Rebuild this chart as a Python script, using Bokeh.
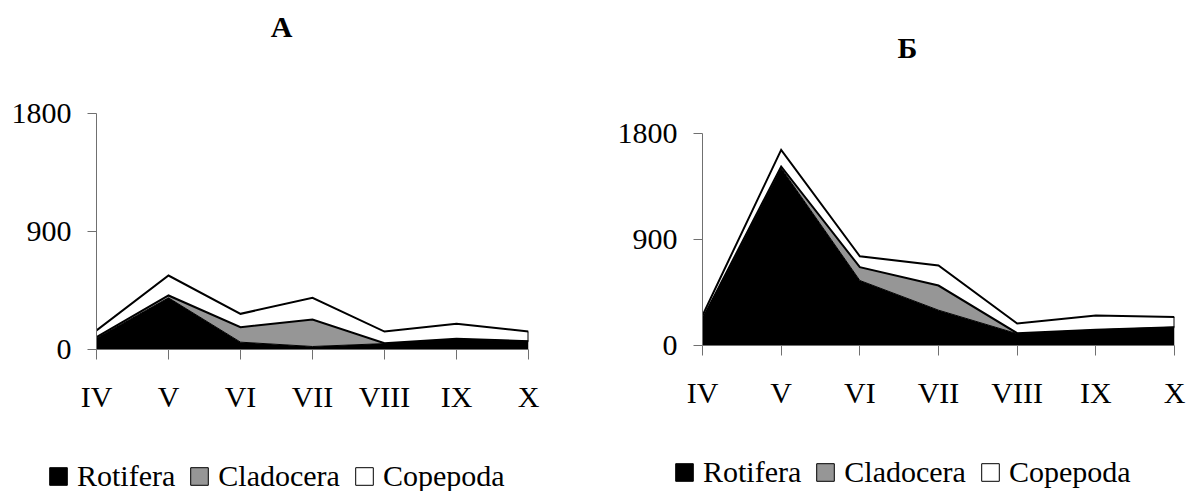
import numpy as np
from bokeh.plotting import figure
from bokeh.models import (ColumnDataSource, Range1d, FixedTicker, Legend,
                          LegendItem, Label)
from bokeh.layouts import row, column
from bokeh.embed import file_html
from bokeh.resources import INLINE

# ---------------- data ----------------
months = ["IV", "V", "VI", "VII", "VIII", "IX", "X"]
y_ticks = [0, 900, 1800]
series_names = ["Rotifera", "Cladocera", "Copepoda"]

a_rotifera = [85, 394, 56, 23, 45, 80, 63]
a_cladocera = [9, 18, 114, 206, 3, 2, 0]
a_copepoda = [51, 152, 102, 165, 89, 114, 74]

b_rotifera = [220, 1505, 552, 300, 100, 133, 156]
b_cladocera = [6, 15, 113, 209, 5, 0, 0]
b_copepoda = [29, 141, 93, 170, 82, 122, 85]

FONT = "Liberation Serif"
AXIS_COLOR = "#707070"
GRAY = "#969696"
COLORS = ["black", GRAY, "white"]


def blank_fig(width, height):
    f = figure(width=width, height=height, output_backend="svg",
               toolbar_location=None, title=None,
               x_range=Range1d(0, width), y_range=Range1d(0, height),
               x_axis_type=None, y_axis_type=None, min_border=0)
    f.outline_line_color = None
    f.grid.visible = False
    return f


def title_fig(text, width, height, cx, cy_from_top):
    f = blank_fig(width, height)
    f.add_layout(Label(x=cx, y=height - cy_from_top, text=text, text_font=FONT,
                       text_font_style="bold", text_font_size="30px",
                       text_align="center", text_baseline="middle",
                       text_color="black"))
    return f


def legend_fig(width, height, loc):
    f = blank_fig(width, height)
    items = []
    for name, col in zip(series_names, COLORS):
        # invisible proxy renderer: only its legend glyph is drawn
        r = f.quad(left=[0], right=[1], top=[1], bottom=[0], fill_color=col,
                   line_color="black", line_width=1)
        r.visible = False
        items.append(LegendItem(label=name, renderers=[r]))
    legend = Legend(items=items, orientation="horizontal", location=loc,
                    glyph_width=22, glyph_height=22, label_standoff=8, spacing=13,
                    padding=0, margin=0, border_line_color=None,
                    background_fill_alpha=0, label_text_font=FONT,
                    label_text_font_size="30px", label_text_color="black",
                    click_policy="none")
    f.add_layout(legend, "center")
    return f


def plot_fig(rot, clad, cope, width, height, borders):
    x = list(range(len(months)))
    c1 = np.array(rot, dtype=float)
    c2 = c1 + np.array(clad, dtype=float)
    c3 = c2 + np.array(cope, dtype=float)
    src = ColumnDataSource(dict(x=x, c0=np.zeros(len(x)), c1=c1, c2=c2, c3=c3))

    bl, br, bt, bb = borders
    p = figure(width=width, height=height, output_backend="svg",
               toolbar_location=None, title=None,
               x_range=Range1d(0, len(months) - 1),
               y_range=Range1d(y_ticks[0], y_ticks[-1]),
               min_border_left=bl, min_border_right=br,
               min_border_top=bt, min_border_bottom=bb)
    p.outline_line_color = None
    p.grid.visible = False

    p.varea(x="x", y1="c0", y2="c1", source=src, fill_color=COLORS[0])
    p.varea(x="x", y1="c1", y2="c2", source=src, fill_color=COLORS[1])
    p.varea(x="x", y1="c2", y2="c3", source=src, fill_color=COLORS[2])
    p.line("x", "c1", source=src, line_color="black", line_width=1, line_join="miter")
    p.line("x", "c2", source=src, line_color="black", line_width=2, line_join="miter")
    p.line("x", "c3", source=src, line_color="black", line_width=2, line_join="miter")
    p.segment(x0=[x[-1]], y0=[c1[-1]], x1=[x[-1]], y1=[c3[-1]],
              line_color="black", line_width=2)

    p.xaxis.ticker = FixedTicker(ticks=x)
    p.xaxis.major_label_overrides = {i: m for i, m in enumerate(months)}
    p.yaxis.ticker = FixedTicker(ticks=y_ticks)
    for ax in (p.xaxis, p.yaxis):
        ax.axis_line_color = AXIS_COLOR
        ax.major_tick_line_color = AXIS_COLOR
        ax.minor_tick_line_color = None
        ax.major_tick_in = 0
        ax.major_label_text_font = FONT
        ax.major_label_text_font_size = "30px"
        ax.major_label_text_color = "black"
    p.xaxis.major_tick_out = 10
    p.xaxis.major_label_standoff = 20
    p.yaxis.major_tick_out = 9
    p.yaxis.major_label_standoff = 16
    return p


# panel A (page x 0..596)
tA = title_fig("А", 596, 80, 281, 26)
pA = plot_fig(a_rotifera, a_cladocera, a_copepoda, 596, 340, (96, 68, 33, 71))
lA = legend_fig(596, 71, (47, -2))

# panel B (page x 596..1189)
tB = title_fig("Б", 593, 90, 311, 47)
pB = plot_fig(b_rotifera, b_cladocera, b_copepoda, 593, 330, (106, 15, 43, 75))
lB = legend_fig(593, 71, (77, 2))

# each child wrapped in its own column so Bokeh does not align their frames
colA = column(column(tA), column(pA), column(lA))
colB = column(column(tB), column(pB), column(lB))
layout = row(colA, colB)
open("out.html", "w").write(file_html(layout, INLINE))
